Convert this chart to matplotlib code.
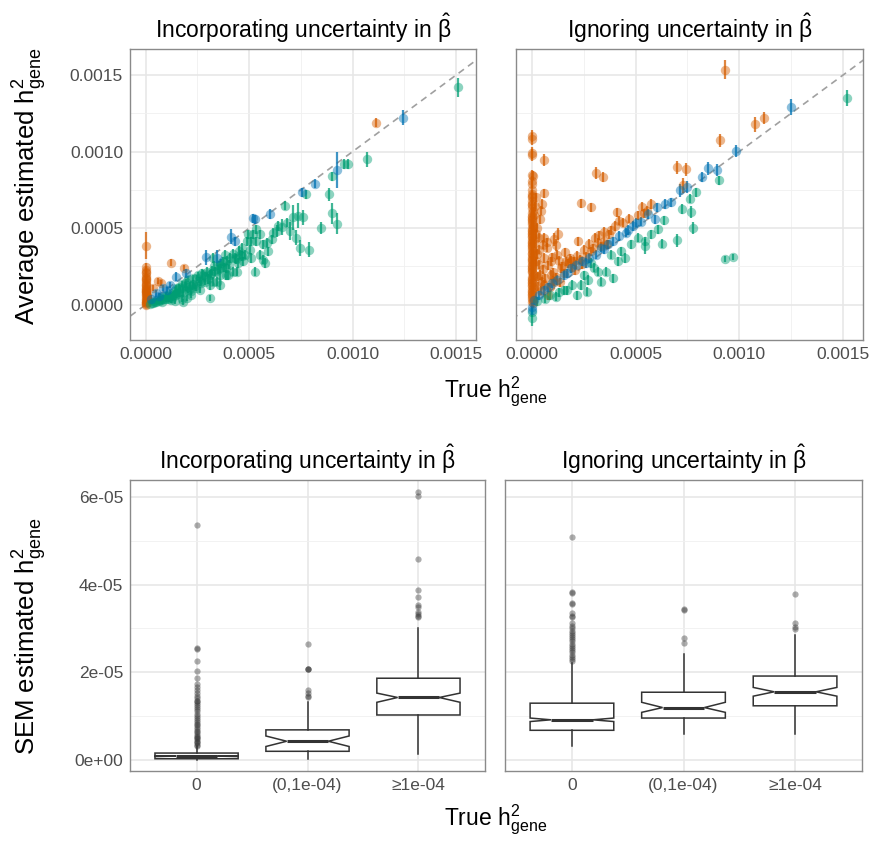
import numpy as np
import matplotlib
matplotlib.use("Agg")
import matplotlib.pyplot as plt
from matplotlib.ticker import MultipleLocator, FuncFormatter

plt.rcParams['font.family'] = ['Liberation Sans', 'DejaVu Sans']
plt.rcParams['mathtext.fontset'] = 'custom'
plt.rcParams['mathtext.rm'] = 'Liberation Sans'
plt.rcParams['mathtext.it'] = 'Liberation Sans'
plt.rcParams['mathtext.bf'] = 'Liberation Sans:bold'

ORANGE = '#D55E00'
BLUE = '#0072B2'
GREEN = '#009E73'

# (true h2, mean estimate, error half-width), all in units of 1e-4
inc_null = [
    (0.00, 3.85, 0.9), (0.00, 2.45, 0.3), (0.01, 2.25, 0.3), (0.00, 2.05, 0.3),
    (0.02, 1.90, 0.3), (0.00, 1.75, 0.25), (0.01, 1.60, 0.25), (0.00, 1.45, 0.25),
    (0.02, 1.30, 0.2), (0.00, 1.20, 0.2), (0.01, 1.10, 0.2), (0.00, 1.00, 0.2),
    (0.03, 0.90, 0.2), (0.00, 0.80, 0.15), (0.01, 0.70, 0.15), (0.02, 0.60, 0.15),
    (0.00, 0.50, 0.15), (0.01, 0.40, 0.1), (0.00, 0.30, 0.1), (0.02, 0.20, 0.1),
    (0.00, 0.10, 0.1), (0.01, 0.05, 0.1), (0.00, 0.00, 0.1), (0.03, 0.15, 0.1),
    (0.04, 0.35, 0.1), (0.05, 0.25, 0.1), (0.08, 0.45, 0.1), (0.10, 0.30, 0.1),
    (0.02, 2.15, 0.3), (0.00, 1.65, 0.3), (0.03, 1.35, 0.2), (0.01, 0.95, 0.2),
    (0.04, 0.65, 0.15), (0.06, 0.55, 0.1), (0.12, 0.20, 0.1), (0.02, 0.85, 0.2),
    (1.20, 2.75, 0.2), (1.85, 2.40, 0.2), (0.58, 1.54, 0.2), (0.74, 1.43, 0.2),
    (0.35, 1.10, 0.2), (11.13, 11.88, 0.3),
]
inc_small = [
    (12.42, 12.21, 0.5), (9.24, 8.79, 1.2), (8.19, 7.90, 0.3), (7.53, 7.35, 0.3),
    (6.00, 5.92, 0.3), (5.27, 5.58, 0.3), (5.16, 5.65, 0.3), (4.31, 4.15, 0.3),
    (4.10, 4.44, 0.5), (3.42, 3.05, 0.5), (2.90, 3.09, 0.5), (1.97, 2.05, 0.3),
    (1.48, 1.83, 0.3), (1.16, 1.28, 0.2), (0.84, 1.06, 0.2), (0.52, 0.73, 0.2),
    (0.27, 0.40, 0.2), (0.63, 0.55, 0.2), (1.02, 0.98, 0.2),
]
inc_large = [
    (15.11, 14.19, 0.6), (10.68, 9.49, 0.5), (9.76, 9.18, 0.35), (9.58, 9.18, 0.35),
    (8.98, 8.39, 0.3), (8.87, 7.20, 0.4), (9.02, 5.96, 0.7), (9.24, 5.30, 0.7),
    (7.74, 7.20, 0.3), (8.45, 5.03, 0.4), (7.89, 3.60, 0.5), (7.45, 3.71, 0.5),
    (7.24, 4.37, 0.5), (7.58, 5.70, 0.5), (7.37, 5.81, 0.8), (7.13, 5.70, 0.8),
    (6.97, 4.81, 0.6), (6.73, 6.47, 0.3), (6.60, 5.08, 0.5), (6.32, 4.81, 0.4),
    (6.08, 4.26, 0.3), (5.92, 3.49, 0.3), (5.68, 3.93, 0.3), (5.52, 4.59, 0.3),
    (5.35, 4.92, 0.3), (5.27, 2.16, 0.3), (4.87, 4.15, 0.3), (4.95, 4.59, 0.3),
    (5.03, 3.60, 0.3), (5.68, 2.94, 0.3), (5.76, 2.72, 0.3), (4.55, 3.27, 0.3),
    (4.47, 2.72, 0.3), (4.23, 2.16, 0.3), (4.06, 3.05, 0.3), (3.90, 1.94, 0.3),
    (3.74, 2.83, 0.3), (3.58, 1.94, 0.3), (3.42, 1.50, 0.3), (3.26, 3.05, 0.3),
    (3.10, 1.28, 0.3), (3.10, 0.44, 0.2), (2.77, 1.94, 0.3), (2.61, 1.50, 0.3),
    (2.45, 1.06, 0.2), (2.29, 1.72, 0.2), (2.13, 1.28, 0.2), (1.97, 1.50, 0.2),
    (1.81, 0.18, 0.2), (1.81, 0.73, 0.2), (1.65, 1.06, 0.2), (1.48, 0.62, 0.2),
    (1.32, 0.62, 0.2), (1.16, 0.51, 0.2), (1.00, 0.40, 0.2), (0.84, 0.40, 0.2),
    (0.68, 0.29, 0.15), (0.52, 0.18, 0.15), (0.35, 0.13, 0.1), (0.19, 0.07, 0.1),
    (3.58, 2.38, 0.3), (3.82, 3.27, 0.3), (3.98, 1.94, 0.3), (4.31, 3.05, 0.3),
    (4.63, 3.71, 0.3), (4.79, 3.27, 0.3), (5.11, 4.15, 0.3), (5.19, 4.59, 0.3),
    (5.35, 4.15, 0.3), (5.52, 3.27, 0.3), (5.84, 4.04, 0.3), (6.16, 4.70, 0.3),
    (6.40, 5.14, 0.3), (6.81, 5.36, 0.3), (2.94, 2.16, 0.3), (3.10, 1.94, 0.3),
    (3.34, 2.16, 0.3), (2.53, 1.94, 0.2), (2.29, 1.28, 0.2), (2.05, 0.95, 0.2),
    (1.89, 1.28, 0.2), (1.56, 0.84, 0.2), (1.40, 0.95, 0.2), (1.16, 0.73, 0.2),
    (1.00, 0.62, 0.2), (0.76, 0.51, 0.2), (1.24, 0.29, 0.2), (1.73, 0.40, 0.2),
    (2.21, 0.62, 0.2), (2.61, 0.95, 0.2), (2.85, 1.50, 0.2), (3.26, 1.50, 0.3),
    (3.58, 1.28, 0.3), (3.90, 2.38, 0.3), (4.39, 2.16, 0.3), (4.71, 2.83, 0.3),
    (5.11, 3.05, 0.3),
    (0.31, 0.11, 0.1), (0.47, 0.16, 0.1), (0.62, 0.21, 0.15), (0.73, 0.33, 0.15),
    (0.92, 0.36, 0.15), (1.07, 0.47, 0.2), (1.21, 0.57, 0.2), (1.36, 0.71, 0.2),
    (1.52, 0.79, 0.2), (1.63, 0.68, 0.2), (1.78, 0.97, 0.2), (1.94, 1.12, 0.2),
    (2.12, 1.02, 0.2), (2.27, 1.38, 0.2), (2.38, 1.22, 0.2), (2.57, 1.63, 0.2),
    (2.68, 1.42, 0.2), (2.87, 1.83, 0.3), (3.02, 1.68, 0.3), (3.14, 2.03, 0.3),
    (3.31, 2.52, 0.3), (3.47, 2.27, 0.3), (3.62, 2.71, 0.3), (3.77, 2.43, 0.3),
    (3.93, 2.88, 0.3), (4.04, 2.62, 0.3), (4.22, 3.33, 0.3), (4.36, 2.98, 0.3),
    (4.52, 3.52, 0.3), (4.66, 3.18, 0.3), (0.42, 0.26, 0.1), (0.56, 0.31, 0.1),
    (0.96, 0.57, 0.2), (1.12, 0.34, 0.2), (1.29, 0.46, 0.2), (1.44, 1.06, 0.2),
    (1.61, 1.18, 0.2), (1.76, 1.32, 0.2), (2.02, 1.66, 0.2), (2.18, 0.86, 0.2),
    (2.46, 1.74, 0.2), (2.71, 2.06, 0.3), (3.21, 2.21, 0.3), (3.52, 2.57, 0.3),
    (2.01, 0.41, 0.2), (0.81, 0.16, 0.1), (1.41, 0.22, 0.15),
]

ign_null = [
    (9.29, 15.36, 0.6), (10.78, 11.77, 0.5), (11.21, 12.21, 0.4), (9.08, 10.73, 0.4),
    (7.01, 8.96, 0.4), (7.43, 8.83, 0.4), (7.30, 7.79, 0.5), (3.09, 8.61, 0.4),
    (3.41, 8.34, 0.3), (0.61, 9.45, 0.4), (0.61, 7.28, 0.3), (0.50, 6.58, 0.3),
    (0.45, 6.14, 0.3), (2.39, 6.62, 0.3), (2.85, 6.36, 0.3), (4.11, 6.03, 0.3),
    (5.31, 6.40, 0.3), (5.57, 6.14, 0.3), (5.76, 6.58, 0.3), (2.23, 4.15, 0.3),
    (1.07, 4.26, 0.4), (1.26, 4.59, 0.4), (0.58, 4.37, 0.3), (0.34, 3.60, 0.3),
    (1.23, 3.27, 0.3), (1.63, 2.83, 0.3), (1.91, 2.87, 0.3), (1.39, 2.38, 0.3),
    (0.91, 1.94, 0.3), (1.07, 1.50, 0.3), (2.52, 3.60, 0.3), (2.85, 3.49, 0.3),
    (3.17, 4.04, 0.3), (3.50, 4.15, 0.3), (3.74, 4.59, 0.3), (4.01, 5.14, 0.3),
    (3.33, 3.82, 0.3), (2.04, 2.83, 0.3), (0.58, 3.05, 0.3), (0.42, 1.94, 0.3),
    (0.74, 3.71, 0.3), (0.91, 2.83, 0.3), (0.26, 5.03, 0.3), (0.34, 4.37, 0.3),
    (0.18, 2.83, 0.3), (0.50, 1.50, 0.3),
    (0.31, 1.21, 0.3), (0.46, 0.92, 0.3), (0.54, 2.31, 0.3), (0.66, 1.72, 0.3),
    (0.79, 2.58, 0.3), (0.86, 1.12, 0.3), (0.96, 3.08, 0.3), (1.04, 2.12, 0.3),
    (1.16, 1.79, 0.3), (1.19, 3.92, 0.4), (1.31, 2.88, 0.3), (1.44, 2.51, 0.3),
    (1.56, 2.06, 0.3), (1.61, 3.42, 0.3), (1.74, 2.69, 0.3), (1.86, 3.04, 0.3),
    (1.96, 2.43, 0.3), (2.09, 2.26, 0.3), (2.16, 3.21, 0.3), (2.31, 2.94, 0.3),
    (2.44, 2.66, 0.3), (2.61, 3.12, 0.3), (2.74, 3.96, 0.3), (2.96, 3.68, 0.3),
    (3.06, 4.36, 0.3), (3.24, 4.52, 0.3), (3.46, 4.74, 0.3), (3.61, 3.94, 0.3),
    (3.84, 4.86, 0.3), (4.21, 5.48, 0.3), (4.41, 5.36, 0.3), (4.69, 5.61, 0.3),
    (5.12, 5.84, 0.3), (5.39, 5.96, 0.3), (0.21, 4.62, 0.3), (0.24, 3.31, 0.3),
    (0.36, 2.62, 0.3), (0.41, 5.58, 0.3), (0.56, 3.91, 0.3), (0.71, 4.08, 0.3),
    (0.16, 6.42, 0.3), (0.11, 5.88, 0.3), (0.19, 7.02, 0.3), (0.06, 8.41, 0.3),
    (0.12, 4.02, 0.3), (0.29, 1.82, 0.3), (0.76, 0.62, 0.3), (0.61, 1.31, 0.3),
    (1.01, 1.56, 0.3), (1.36, 1.46, 0.3),
    (0.00, 11.04, 0.4), (0.00, 10.82, 0.4), (0.00, 9.89, 0.4), (0.00, 9.78, 0.4),
    (0.00, 7.90, 0.3), (0.02, 7.50, 0.3), (0.00, 7.20, 0.3), (0.01, 7.00, 0.3),
    (0.00, 6.80, 0.3), (0.03, 6.50, 0.3), (0.00, 6.30, 0.3), (0.01, 6.00, 0.3),
    (0.00, 5.80, 0.3), (0.02, 5.60, 0.3), (0.00, 5.40, 0.3), (0.05, 5.20, 0.3),
    (0.00, 5.00, 0.3), (0.01, 4.80, 0.3), (0.00, 4.60, 0.3), (0.03, 4.40, 0.3),
    (0.00, 4.20, 0.3), (0.02, 4.00, 0.3), (0.00, 3.80, 0.3), (0.01, 3.60, 0.3),
    (0.00, 3.40, 0.3), (0.04, 3.20, 0.3), (0.00, 3.00, 0.3), (0.01, 2.80, 0.3),
    (0.00, 2.60, 0.3), (0.02, 2.40, 0.3), (0.00, 2.20, 0.3), (0.06, 2.00, 0.3),
    (0.00, 1.80, 0.3), (0.01, 1.60, 0.3), (0.00, 1.40, 0.3), (0.03, 1.20, 0.3),
    (0.00, 1.00, 0.3), (0.02, 0.80, 0.3), (0.00, 0.60, 0.3), (0.01, 0.40, 0.3),
    (0.00, 0.20, 0.3), (0.08, 0.10, 0.3),
    (0.04, 0.30, 0.3), (0.01, 0.50, 0.3), (0.03, 0.70, 0.3), (0.00, 0.90, 0.3),
    (0.04, 1.10, 0.3), (0.01, 1.30, 0.3), (0.03, 1.50, 0.3), (0.00, 1.70, 0.3),
    (0.04, 1.90, 0.3), (0.01, 2.10, 0.3), (0.03, 2.30, 0.3), (0.00, 2.50, 0.3),
    (0.04, 2.70, 0.3), (0.01, 2.90, 0.3), (0.03, 3.10, 0.3), (0.00, 3.30, 0.3),
    (0.04, 3.50, 0.3), (0.01, 3.70, 0.3), (0.03, 3.90, 0.3), (0.00, 4.10, 0.3),
    (0.04, 4.30, 0.3), (0.01, 4.50, 0.3), (0.03, 4.70, 0.3), (0.00, 4.90, 0.3),
    (0.04, 5.10, 0.3), (0.01, 5.30, 0.3), (0.03, 5.50, 0.3), (0.00, 5.70, 0.3),
    (0.04, 6.10, 0.3), (0.01, 6.60, 0.3), (0.03, 7.10, 0.3), (0.00, 8.10, 0.3),
    (0.02, 8.50, 0.3),
]
ign_small = [
    (12.49, 12.91, 0.5), (9.85, 10.04, 0.4), (8.51, 8.90, 0.4), (8.92, 8.79, 0.4),
    (8.22, 8.34, 0.3), (7.49, 7.68, 0.4), (7.14, 7.46, 0.4), (6.73, 6.69, 0.3),
    (6.41, 6.58, 0.3), (6.04, 6.36, 0.3), (5.92, 5.58, 0.3), (5.60, 5.92, 0.3),
    (5.03, 5.36, 0.3), (4.87, 5.14, 0.3), (4.55, 4.70, 0.3), (4.22, 4.48, 0.3),
    (3.90, 4.15, 0.3), (3.66, 3.93, 0.3), (3.33, 3.71, 0.3), (3.09, 3.27, 0.3),
    (2.77, 3.05, 0.3), (2.44, 2.83, 0.3), (2.12, 2.60, 0.3), (1.88, 2.38, 0.3),
    (1.55, 1.94, 0.3), (1.23, 1.61, 0.3), (0.99, 1.39, 0.3), (0.58, 0.95, 0.3),
    (0.34, 0.62, 0.3), (0.10, 0.29, 0.3), (0.00, -0.15, 0.3), (0.00, -0.38, 0.3),
    (4.62, 4.88, 0.3), (3.48, 3.62, 0.3), (2.61, 2.72, 0.3), (1.72, 2.05, 0.3),
    (0.78, 1.12, 0.3), (5.26, 5.41, 0.3),
]
ign_large = [
    (15.19, 13.49, 0.5), (9.03, 8.12, 0.3), (7.91, 7.35, 0.3), (7.62, 6.91, 0.3),
    (7.22, 6.25, 0.3), (7.67, 6.03, 0.4), (7.78, 4.99, 0.4), (7.01, 4.19, 0.4),
    (6.28, 3.97, 0.3), (5.44, 3.82, 0.5), (5.47, 4.15, 0.3), (6.08, 4.92, 0.3),
    (6.38, 5.52, 0.3), (9.29, 3.00, 0.2), (9.68, 3.09, 0.2), (4.79, 3.93, 0.3),
    (4.30, 3.49, 0.3), (3.82, 3.27, 0.3), (3.90, 1.72, 0.3), (3.58, 2.16, 0.3),
    (3.33, 1.50, 0.3), (3.17, 2.16, 0.3), (2.85, 2.72, 0.3), (2.69, 1.61, 0.3),
    (2.65, 0.84, 0.3), (2.20, 0.62, 0.3), (2.36, 1.28, 0.3), (1.96, 1.28, 0.3),
    (1.72, 0.95, 0.3), (1.55, 0.95, 0.3), (1.15, 0.51, 0.3), (0.66, 0.40, 0.3),
    (0.26, 0.22, 0.3), (0.00, -0.88, 0.5), (0.00, -0.49, 0.3), (5.11, 4.37, 0.3),
    (5.76, 4.59, 0.3), (4.47, 3.05, 0.3), (4.14, 2.83, 0.3), (1.32, 0.81, 0.3),
    (2.52, 1.93, 0.3), (3.02, 2.41, 0.3), (0.88, 0.62, 0.3),
]

# SEM of estimated h2 by true-h2 bin, units of 1e-5
bins = ['0', '(0,1e-04)', '\u22651e-04']
inc_lo = [0.00, 0.02, 0.12]
inc_q1 = [0.02, 0.19, 1.02]
inc_med = [0.08, 0.42, 1.42]
inc_q3 = [0.15, 0.68, 1.86]
inc_hi = [0.30, 1.31, 3.00]
inc_ci = [(0.07, 0.09), (0.30, 0.54), (1.31, 1.52)]
inc_out = [
    [5.37, 2.54, 2.53, 2.25, 2.02, 1.86, 1.72, 1.65, 1.58, 1.52, 1.45, 1.40, 1.35,
     1.34, 1.30, 1.25, 1.20, 1.15, 1.10, 1.05, 1.00, 0.95, 0.90, 0.86, 0.82, 0.78,
     0.74, 0.70, 0.66, 0.62, 0.58, 0.55, 0.52, 0.49, 0.46, 0.43, 0.40, 0.37, 0.34,
     0.32],
    [2.65, 2.08, 2.08, 2.07, 1.58, 1.52, 1.45, 1.42],
    [6.12, 6.03, 4.59, 3.88, 3.71, 3.54, 3.48, 3.37, 3.33, 3.28, 3.25],
]
ign_lo = [0.31, 0.58, 0.59]
ign_q1 = [0.67, 0.95, 1.23]
ign_med = [0.91, 1.19, 1.55]
ign_q3 = [1.29, 1.54, 1.91]
ign_hi = [2.20, 2.42, 2.85]
ign_ci = [(0.87, 0.95), (1.08, 1.31), (1.45, 1.65)]
ign_out = [
    [5.08, 3.82, 3.80, 3.58, 3.55, 3.35, 3.29, 3.25, 3.12, 3.05, 3.00, 2.95, 2.90,
     2.85, 2.80, 2.75, 2.70, 2.65, 2.60, 2.55, 2.50, 2.45, 2.40, 2.35, 2.30, 2.25],
    [3.45, 3.42, 2.79, 2.66],
    [3.79, 3.12, 3.02, 2.98],
]

TITLES = [r'Incorporating uncertainty in $\hat{\mathrm{\beta}}$',
          r'Ignoring uncertainty in $\hat{\mathrm{\beta}}$']
H2 = r'$\mathrm{h}^2_{\mathrm{gene}}$'

W, H = 871, 842
fig = plt.figure(figsize=(W / 100, H / 100), dpi=100)


def box(l, t, r, b):
    return [l / W, 1 - b / H, (r - l) / W, (b - t) / H]


def style(ax):
    ax.set_facecolor('white')
    for s in ax.spines.values():
        s.set_color('#8a8a8a')
        s.set_linewidth(1.0)
    ax.grid(which='major', color='#e6e6e6', linewidth=1.1)
    ax.grid(which='minor', color='#f0f0f0', linewidth=0.6)
    ax.set_axisbelow(True)
    ax.tick_params(which='both', length=0, labelsize=12.5, labelcolor='#4d4d4d', pad=5)


axes_top = [fig.add_axes(box(130, 49, 476, 340)), fig.add_axes(box(516, 49, 863, 340))]
axes_bot = [fig.add_axes(box(130, 480, 485, 771)), fig.add_axes(box(505, 480, 862, 771))]

fmt4 = FuncFormatter(lambda v, p: '%.4f' % v)
panels = [(inc_null, inc_large, inc_small), (ign_null, ign_large, ign_small)]
for i, ax in enumerate(axes_top):
    style(ax)
    ax.plot([-0.001, 0.002], [-0.001, 0.002], ls=(0, (4, 3)), color='#a0a0a0', lw=1.2, zorder=1)
    for pts, col in zip(panels[i], (ORANGE, GREEN, BLUE)):
        a = np.array(pts) * 1e-4
        ax.vlines(a[:, 0], a[:, 1] - a[:, 2], a[:, 1] + a[:, 2], color=col, lw=1.6, alpha=0.75, zorder=2)
        ax.scatter(a[:, 0], a[:, 1], s=46, color=col, alpha=0.45, linewidths=0, zorder=3)
    ax.set_xlim(-0.000076, 0.001596)
    ax.set_ylim(-0.000231, 0.00167)
    ax.xaxis.set_major_locator(MultipleLocator(0.0005))
    ax.yaxis.set_major_locator(MultipleLocator(0.0005))
    ax.xaxis.set_minor_locator(MultipleLocator(0.00025))
    ax.yaxis.set_minor_locator(MultipleLocator(0.00025))
    ax.xaxis.set_major_formatter(fmt4)
    ax.yaxis.set_major_formatter(fmt4)
    ax.set_title(TITLES[i], fontsize=16.5, pad=8)
axes_top[1].tick_params(labelleft=False)

fmte = FuncFormatter(lambda v, p: '%.0e' % v)
boxes = [(inc_lo, inc_q1, inc_med, inc_q3, inc_hi, inc_ci, inc_out),
         (ign_lo, ign_q1, ign_med, ign_q3, ign_hi, ign_ci, ign_out)]
for i, ax in enumerate(axes_bot):
    style(ax)
    lo, q1, med, q3, hi, ci, out = boxes[i]
    stats = []
    for k in range(3):
        stats.append(dict(whislo=lo[k] * 1e-5, q1=q1[k] * 1e-5, med=med[k] * 1e-5,
                          q3=q3[k] * 1e-5, whishi=hi[k] * 1e-5,
                          cilo=ci[k][0] * 1e-5, cihi=ci[k][1] * 1e-5,
                          fliers=np.array(out[k]) * 1e-5, label=bins[k]))
    ax.bxp(stats, positions=[1, 2, 3], widths=0.75, shownotches=True, showcaps=False,
           patch_artist=True,
           boxprops=dict(facecolor='white', edgecolor='#333333', linewidth=1.1),
           whiskerprops=dict(color='#333333', linewidth=1.1),
           medianprops=dict(color='#333333', linewidth=2.2),
           flierprops=dict(marker='o', markerfacecolor='#333333', markeredgecolor='none',
                           alpha=0.4, markersize=4.5))
    ax.set_xlim(0.4, 3.6)
    ax.set_ylim(-2.6e-6, 6.39e-5)
    ax.yaxis.set_major_locator(MultipleLocator(2e-5))
    ax.yaxis.set_minor_locator(MultipleLocator(1e-5))
    ax.yaxis.set_major_formatter(fmte)
    ax.set_title(TITLES[i], fontsize=16.5, pad=8)
axes_bot[1].tick_params(labelleft=False)

fig.text(30 / W, 1 - 186 / H, 'Average estimated ' + H2, rotation=90, ha='center', va='center', fontsize=18.5)
fig.text(30 / W, 1 - 636 / H, 'SEM estimated ' + H2, rotation=90, ha='center', va='center', fontsize=18.5)
fig.text(496 / W, 1 - 392 / H, 'True ' + H2, ha='center', va='center', fontsize=16.5)
fig.text(496 / W, 1 - 820 / H, 'True ' + H2, ha='center', va='center', fontsize=16.5)

fig.savefig('out.png', dpi=100, facecolor='white')
